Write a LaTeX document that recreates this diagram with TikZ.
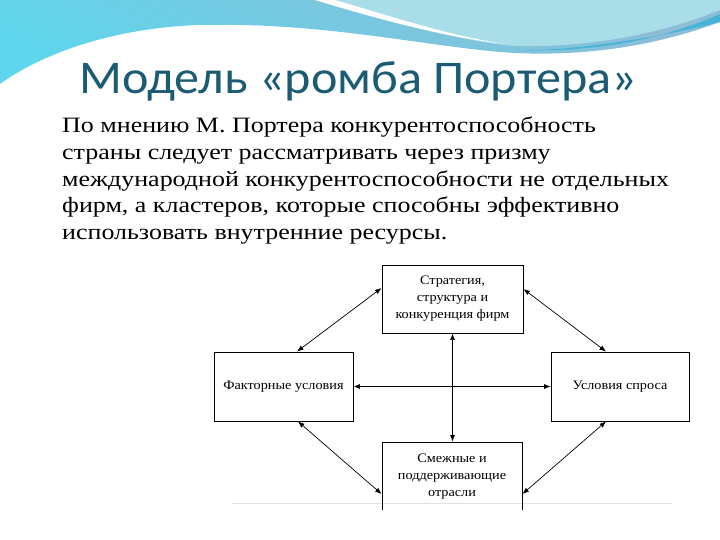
\documentclass[tikz,border=0pt]{standalone}
\usepackage{fontspec}
\setmainfont{Liberation Serif}
\newfontfamily\titlefont[FakeStretch=1.07]{Carlito}
\newfontfamily\bodyfont[FakeStretch=1.185]{Liberation Serif}
\newfontfamily\boxfont[FakeStretch=1.1]{Liberation Serif}
\usetikzlibrary{arrows.meta,calc}
\definecolor{titleblue}{HTML}{1B5C74}
\definecolor{bandsteel}{HTML}{8DBCD6}
\definecolor{bandcyan}{HTML}{5ED6EC}
\definecolor{bandlight}{HTML}{A9DEE9}
\definecolor{banddark}{HTML}{45B4D8}
\tikzset{
  box/.style={draw, line width=0.9bp, inner sep=0pt, align=center,
    font=\boxfont\fontsize{13}{17}\selectfont},
  link/.style={line width=0.7bp, {Latex[length=6.5bp,width=5bp]}-{Latex[length=6.5bp,width=5bp]}}
}
\begin{document}
\begin{tikzpicture}[x=1bp,y=-1bp]
\useasboundingbox (0,0) rectangle (720,540);
\fill[white] (0,0) rectangle (720,540);
% background band
\shade[top color=bandsteel, bottom color=bandcyan, shading angle=-25]
  (0,0) -- (720,0) -- (720,22)
  .. controls (650,48) and (580,56) .. (515,53)
  .. controls (430,48) and (330,22) .. (200,25)
  .. controls (110,28) and (40,55) .. (0,84) -- cycle;
\fill[banddark] (720,14) .. controls (650,45) and (580,52) .. (515,50)
  .. controls (560,52) and (650,40) .. (720,22) -- cycle;
\fill[bandlight] (320,0) .. controls (380,18) and (450,40) .. (515,46)
  .. controls (600,48) and (670,30) .. (720,10) -- (720,0) -- cycle;
\fill[white] (315,0) .. controls (380,20) and (450,38) .. (505,44)
  .. controls (450,36) and (390,16) .. (335,0) -- cycle;
% title
\node[anchor=base west, inner sep=0pt, text=titleblue,
  font=\titlefont\fontsize{47}{52}\selectfont] (title) at (79,94) {Модель «ромба Портера»};
% body text
\node[anchor=north west, inner sep=0pt, align=left,
  font=\bodyfont\fontsize{22}{26.7}\selectfont] (body) at (62,117)
  {По мнению М. Портера конкурентоспособность\\
   страны следует рассматривать через призму\\
   международной конкурентоспособности не отдельных\\
   фирм, а кластеров, которые способны эффективно\\
   использовать внутренние ресурсы.};
% diagram
\fill[black!12] (232,503) rectangle (672,504);
\begin{scope}
\clip (200,250) rectangle (710,509);
\node[box, minimum width=141bp, minimum height=68bp] (top) at (452.5,299)
  {Стратегия,\\структура и\\конкуренция фирм};
\node[box, minimum width=139bp, minimum height=69bp] (left) at (283.5,386.5)
  {Факторные условия};
\node[box, minimum width=138bp, minimum height=69bp] (right) at (620,386.5)
  {Условия спроса};
\node[box, minimum width=140bp, minimum height=69bp] (bottom) at (452,476.5)
  {Смежные и\\поддерживающие\\отрасли};
\draw[link] ([yshift=11bp]top.west) -- ([xshift=13.5bp]left.north);
\draw[link] ([yshift=10bp]top.east) -- ([xshift=-14bp]right.north);
\draw[link] ([xshift=14.5bp]left.south) -- ([yshift=-17.5bp]bottom.west);
\draw[link] ([xshift=-14bp]right.south) -- ([yshift=-17.5bp]bottom.east);
\draw[link] (top.south) -- (top.south |- bottom.north);
\draw[link] (left.east) -- (right.west);
\end{scope}
\end{tikzpicture}
\end{document}
